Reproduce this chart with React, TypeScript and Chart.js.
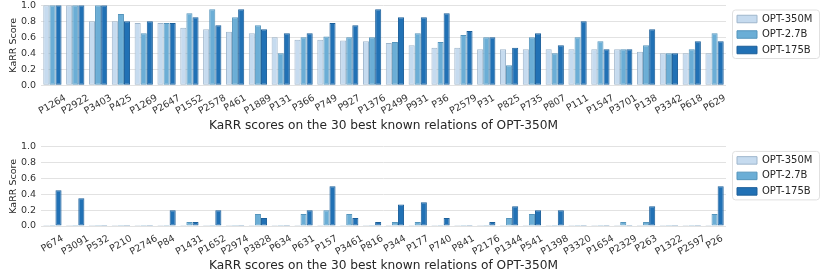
import React, { useEffect, useRef } from "react";
import { Chart, registerables } from "chart.js";

Chart.register(...registerables);

const FONT = "'DejaVu Sans', sans-serif";

const seriesNames = ["OPT-350M", "OPT-2.7B", "OPT-175B"];
const fillColors = ["#c6dbef", "#6baed6", "#2171b5"];
const edgeColors = ["#9fb6cc", "#5595bc", "#1c5f99"];

const yTickValues = [0, 0.2, 0.4, 0.6, 0.8, 1.0];
const yTickLabels = ["0.0", "0.2", "0.4", "0.6", "0.8", "1.0"];
const yAxisTitle = "KaRR Score";
const chartTitle = "KaRR scores on the 30 best known relations of OPT-350M";

// ---- Top chart ----
const topCategories = [
  "P1264", "P2922", "P3403", "P425", "P1269", "P2647", "P1552", "P2578", "P461", "P1889",
  "P131", "P366", "P749", "P927", "P1376", "P2499", "P931", "P36", "P2579", "P31",
  "P825", "P735", "P807", "P111", "P1547", "P3701", "P138", "P3342", "P618", "P629",
];
const top350M = [
  1.0, 1.0, 0.8, 0.8, 0.78, 0.78, 0.72, 0.7, 0.67, 0.65,
  0.6, 0.57, 0.57, 0.56, 0.55, 0.53, 0.5, 0.47, 0.47, 0.45,
  0.45, 0.45, 0.45, 0.45, 0.45, 0.45, 0.42, 0.4, 0.4, 0.4,
];
const top2_7B = [
  1.0, 1.0, 1.0, 0.89, 0.65, 0.78, 0.9, 0.95, 0.85, 0.75,
  0.4, 0.6, 0.61, 0.6, 0.6, 0.54, 0.65, 0.54, 0.63, 0.6,
  0.25, 0.6, 0.4, 0.6, 0.55, 0.45, 0.5, 0.4, 0.45, 0.65,
];
const top175B = [
  1.0, 1.0, 1.0, 0.8, 0.8, 0.78, 0.85, 0.75, 0.95, 0.7,
  0.65, 0.65, 0.78, 0.75, 0.95, 0.85, 0.85, 0.9, 0.68, 0.6,
  0.47, 0.65, 0.5, 0.8, 0.45, 0.45, 0.7, 0.4, 0.55, 0.55,
];

// ---- Bottom chart ----
const bottomCategories = [
  "P674", "P3091", "P532", "P210", "P2746", "P84", "P1431", "P1652", "P2974", "P3828",
  "P634", "P631", "P157", "P3461", "P816", "P344", "P177", "P740", "P841", "P2176",
  "P1344", "P541", "P1398", "P3320", "P1654", "P2329", "P263", "P1322", "P2597", "P26",
];
const bottom350M = [
  0, 0, 0, 0, 0, 0, 0, 0, 0, 0,
  0, 0, 0, 0, 0, 0, 0, 0, 0, 0,
  0, 0, 0, 0, 0, 0, 0, 0, 0, 0,
];
const bottom2_7B = [
  0, 0, 0, 0, 0, 0, 0.05, 0, 0, 0.15,
  0, 0.15, 0.2, 0.15, 0, 0.05, 0.05, 0, 0, 0,
  0.1, 0.15, 0, 0, 0, 0.05, 0.05, 0, 0, 0.15,
];
const bottom175B = [
  0.45, 0.35, 0, 0, 0, 0.2, 0.05, 0.2, 0, 0.1,
  0, 0.2, 0.5, 0.1, 0.05, 0.27, 0.3, 0.1, 0, 0.05,
  0.25, 0.2, 0.2, 0, 0, 0, 0.25, 0, 0, 0.5,
];

const ROT = 30;

// Shift rotated x labels so they are centred on their tick (like matplotlib ha="center")
const labelCenterPlugin = {
  id: "labelCenter",
  beforeDraw(chart: any) {
    const xs = chart.scales.x;
    if (!xs) return;
    const items = xs.getLabelItems(chart.chartArea);
    const ctx = chart.ctx;
    ctx.save();
    items.forEach((it: any) => {
      if (it.__shifted) return;
      ctx.font = it.font.string;
      const w = ctx.measureText(String(it.label)).width;
      it.options.translation[0] += (w * Math.cos((ROT * Math.PI) / 180)) / 2;
      it.__shifted = true;
    });
    ctx.restore();
  },
};

// Place the legend just right of the plot area and draw its frame
const legendFramePlugin = {
  id: "legendFrame",
  beforeDraw(chart: any) {
    const lg = chart.legend;
    if (!lg) return;
    const area = chart.chartArea;
    const left = area.right + 5.5;
    const top = area.top + 3.2;
    lg.left = left;
    lg.top = top;
    lg.right = chart.width;
    lg.bottom = top + 62;
    lg.width = lg.right - lg.left;
    lg.height = lg.bottom - lg.top;
    const ctx = chart.ctx;
    const bx = left + 1;
    const by = top + 1.5;
    const bw = 87;
    const bh = 48.5;
    const r = 3;
    ctx.save();
    ctx.beginPath();
    ctx.moveTo(bx + r, by);
    ctx.lineTo(bx + bw - r, by);
    ctx.arcTo(bx + bw, by, bx + bw, by + r, r);
    ctx.lineTo(bx + bw, by + bh - r);
    ctx.arcTo(bx + bw, by + bh, bx + bw - r, by + bh, r);
    ctx.lineTo(bx + r, by + bh);
    ctx.arcTo(bx, by + bh, bx, by + bh - r, r);
    ctx.lineTo(bx, by + r);
    ctx.arcTo(bx, by, bx + r, by, r);
    ctx.closePath();
    ctx.fillStyle = "#ffffff";
    ctx.fill();
    ctx.strokeStyle = "#e0e0e0";
    ctx.lineWidth = 1;
    ctx.stroke();
    ctx.restore();
  },
};

function makeConfig(
  categories: string[],
  a: number[],
  b: number[],
  c: number[],
  topPad: number,
  xAxisHeight: number,
  bottomPad: number
): any {
  const series = [a, b, c];
  return {
    type: "bar",
    data: {
      labels: categories,
      datasets: series.map((vals, i) => ({
        label: seriesNames[i],
        data: vals,
        backgroundColor: fillColors[i],
        borderColor: edgeColors[i],
        borderWidth: 1,
        borderSkipped: false,
        categoryPercentage: 0.8,
        barPercentage: 1.0,
        minBarLength: 1,
      })),
    },
    options: {
      animation: false,
      responsive: false,
      devicePixelRatio: 1,
      layout: { padding: { left: 0, right: 104, top: topPad, bottom: bottomPad } },
      scales: {
        x: {
          type: "category",
          offset: true,
          grid: { display: false, drawTicks: false },
          border: { display: false },
          ticks: {
            autoSkip: false,
            minRotation: ROT,
            maxRotation: ROT,
            padding: 7,
            color: "#333333",
            font: { family: FONT, size: 9.5 },
          },
          afterFit: (s: any) => {
            s.height = xAxisHeight;
            s.paddingLeft = 0;
            s.paddingRight = 0;
          },
        },
        y: {
          min: 0,
          max: 1,
          grid: { color: "#e2e2e2", lineWidth: 1, drawTicks: false },
          border: { display: false },
          afterBuildTicks: (s: any) => {
            s.ticks = yTickValues.map((v) => ({ value: v }));
          },
          ticks: {
            padding: 5,
            color: "#333333",
            font: { family: FONT, size: 9.5 },
            callback: (_v: any, idx: number) => yTickLabels[idx],
          },
          title: {
            display: true,
            text: yAxisTitle,
            color: "#262626",
            font: { family: FONT, size: 9.5 },
            padding: { top: 8.3, bottom: 0 },
          },
          afterFit: (s: any) => {
            s.width = 41;
            s.paddingTop = 0;
            s.paddingBottom = 0;
          },
        },
      },
      plugins: {
        legend: {
          display: true,
          position: "chartArea",
          align: "start",
          labels: {
            boxWidth: 20,
            boxHeight: 7.5,
            padding: 5.5,
            color: "#262626",
            font: { family: FONT, size: 10 },
          },
        },
        title: {
          display: true,
          position: "bottom",
          fullSize: false,
          text: chartTitle,
          color: "#262626",
          font: { family: FONT, size: 12.2, weight: "normal" },
          padding: { top: 0, bottom: 0 },
        },
        tooltip: { enabled: false },
      },
    },
    plugins: [labelCenterPlugin, legendFramePlugin],
  };
}

function BarPanel(props: {
  categories: string[];
  a: number[];
  b: number[];
  c: number[];
  top: number;
  height: number;
  topPad: number;
  xAxisHeight: number;
  bottomPad: number;
}) {
  const ref = useRef<HTMLCanvasElement>(null);
  useEffect(() => {
    if (!ref.current) return;
    const chart = new Chart(
      ref.current,
      makeConfig(props.categories, props.a, props.b, props.c, props.topPad, props.xAxisHeight, props.bottomPad)
    );
    return () => chart.destroy();
  }, []);
  return (
    <canvas
      ref={ref}
      width={830}
      height={props.height}
      style={{ position: "absolute", left: 0, top: props.top, width: 830, height: props.height }}
    />
  );
}

export default function App() {
  return (
    <div
      style={{
        position: "absolute",
        left: 0,
        top: 0,
        width: 830,
        height: 274,
        background: "#ffffff",
        overflow: "hidden",
      }}
    >
      <BarPanel
        categories={topCategories}
        a={top350M}
        b={top2_7B}
        c={top175B}
        top={0}
        height={137}
        topPad={5.3}
        xAxisHeight={33.7}
        bottomPad={3.36}
      />
      <BarPanel
        categories={bottomCategories}
        a={bottom350M}
        b={bottom2_7B}
        c={bottom175B}
        top={141}
        height={133}
        topPad={5.7}
        xAxisHeight={32.5}
        bottomPad={0.86}
      />
    </div>
  );
}
